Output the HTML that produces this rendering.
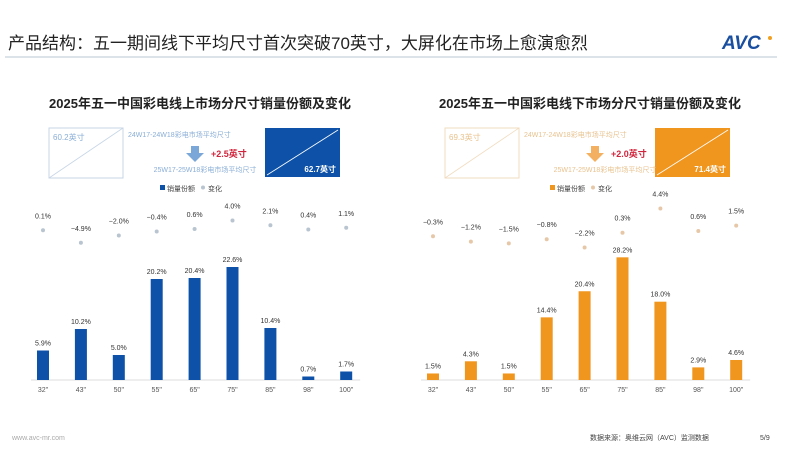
<!DOCTYPE html>
<html><head><meta charset="utf-8">
<style>
body{margin:0;background:#fff;}
svg text{font-family:"Liberation Sans","Noto Sans CJK SC",sans-serif;}
</style></head>
<body>
<svg id="root" width="800" height="470" viewBox="0 0 800 470" xmlns="http://www.w3.org/2000/svg">
<rect width="800" height="470" fill="#fff"/>
<text x="8" y="49" font-size="17" fill="#222">产品结构：五一期间线下平均尺寸首次突破70英寸，大屏化在市场上愈演愈烈</text>
<line x1="5" y1="57" x2="777" y2="57" stroke="#b9c9d6" stroke-width="1"/>
<g>
<text x="722" y="49" font-size="19" font-weight="bold" font-style="italic" fill="#1a4fa0">AVC</text>
<circle cx="770" cy="38" r="2" fill="#f0a020"/>
</g>
<text x="12" y="440" font-size="7" fill="#aaa">www.avc-mr.com</text>
<text x="590" y="440" font-size="7" fill="#444">数据来源：奥维云网（AVC）监测数据</text>
<text x="760" y="440" font-size="7" fill="#444">5/9</text>
<g id="charts"></g>
</svg>
<script>
const cats = ['32"','43"','50"','55"','65"','75"','85"','98"','100"'];
const onlineShare = [5.9,10.2,5.0,20.2,20.4,22.6,10.4,0.7,1.7];
const onlineChange = [0.1,-4.9,-2.0,-0.4,0.6,4.0,2.1,0.4,1.1];
const offlineShare = [1.5,4.3,1.5,14.4,20.4,28.2,18.0,2.9,4.6];
const offlineChange = [-0.3,-1.2,-1.5,-0.8,-2.2,0.3,4.4,0.6,1.5];
const onlineSizes = ['60.2英寸','62.7英寸','+2.5英寸'];
const offlineSizes = ['69.3英寸','71.4英寸','+2.0英寸'];

const NS='http://www.w3.org/2000/svg';
const root=document.getElementById('charts');
function mk(tag,attrs,parent,text){const e=document.createElementNS(NS,tag);for(const k in attrs)e.setAttribute(k,attrs[k]);if(text!==undefined)e.textContent=text;(parent||root).appendChild(e);return e;}
function fmt(v){return (v<0?'−':'')+Math.abs(v).toFixed(1)+'%';}

function drawChart(cfg){
  const g=mk('g',{});
  
  
  const t=mk('text',{x:cfg.cx,y:108,'font-size':13,'font-weight':'bold','text-anchor':'middle',fill:'#222'},g,cfg.title);
  
  
  const b1=mk('g',{},g);
  
  
  mk('rect',{x:cfg.b1x,y:128,width:74,height:50,fill:'none',stroke:cfg.light,'stroke-width':1},b1);
  mk('line',{x1:cfg.b1x,y1:178,x2:cfg.b1x+74,y2:128,stroke:cfg.light,'stroke-width':0.8},b1);
  mk('text',{x:cfg.b1x+4,y:140,'font-size':8,fill:cfg.lightText},b1,cfg.sizes[0]);
  const b2=mk('g',{},g);
  
  
  mk('rect',{x:cfg.b2x,y:128,width:75,height:49,fill:cfg.color},b2);
  mk('line',{x1:cfg.b2x+2,y1:175,x2:cfg.b2x+73,y2:130,stroke:'#fff','stroke-width':0.8},b2);
  mk('text',{x:cfg.b2x+71,y:172,'font-size':8,'font-weight':'bold','text-anchor':'end',fill:'#fff'},b2,cfg.sizes[1]);
  const ac=cfg.b1x+cfg.arrowOff;
  const l1=mk('text',{x:cfg.b1x+79,y:137,'font-size':7,fill:cfg.lightText},g,cfg.lbl1);
  
  
  const ar=mk('path',{d:`M${ac-4},146 h8 v7 h5 l-9,9 l-9,-9 h5 z`,fill:cfg.arrow},g);
  
  
  const dl=mk('text',{x:ac+16,y:157,'font-size':9,'font-weight':'bold',fill:'#d0243c'},g,cfg.sizes[2]);
  
  
  const l2=mk('text',{x:ac+10,y:172,'font-size':7,'text-anchor':'middle',fill:cfg.lightText},g,cfg.lbl2);
  
  
  const lg=mk('g',{},g);
  
  
  mk('rect',{x:cfg.cx-40,y:185,width:5,height:5,fill:cfg.color},lg);
  mk('text',{x:cfg.cx-33,y:191,'font-size':7,fill:'#444'},lg,'销量份额');
  mk('circle',{cx:cfg.cx+3,cy:187.5,r:2,fill:cfg.dot},lg);
  mk('text',{x:cfg.cx+8,y:191,'font-size':7,fill:'#444'},lg,'变化');
  const base=380, step=37.9;
  const xs=i=>cfg.x0+i*step;
  const ys=v=>base-v*cfg.k;
  const yc=v=>cfg.z-v*cfg.kc;
  const ax=mk('line',{x1:cfg.x0-12,y1:base,x2:xs(8)+14,y2:base,stroke:'#ddd','stroke-width':1},g);
  
  
  cats.forEach((c,i)=>{
    const tl=mk('text',{x:xs(i),y:392,'font-size':7,'text-anchor':'middle',fill:'#555'},g,c);
    
    
    const v=cfg.share[i];
    const r=mk('rect',{x:xs(i)-6,y:ys(v),width:12,height:base-ys(v),fill:cfg.color},g);
    
    
    const bl=mk('text',{x:xs(i),y:ys(v)-5,'font-size':7,'text-anchor':'middle',fill:'#333'},g,v.toFixed(1)+'%');
    
    
    const cv=cfg.change[i];
    const d=mk('circle',{cx:xs(i),cy:yc(cv),r:2,fill:cfg.dot},g);
    
    
    const cl=mk('text',{x:xs(i),y:yc(cv)-12,'font-size':7,'text-anchor':'middle',fill:'#333'},g,fmt(cv));
    
    
  });
}
drawChart({name:'online-chart',title:'2025年五一中国彩电线上市场分尺寸销量份额及变化',cx:200,x0:43,
  share:onlineShare,change:onlineChange,sizes:onlineSizes,k:5.0,z:230.5,kc:2.5,arrowOff:146,
  color:'#0d52a8',light:'#c8d6e6',lightText:'#8aaed6',dot:'#b8c4d0',arrow:'#7aa7d8',b1x:49,b2x:265,
  lbl1:'24W17-24W18彩电市场平均尺寸',lbl2:'25W17-25W18彩电市场平均尺寸'});
drawChart({name:'offline-chart',title:'2025年五一中国彩电线下市场分尺寸销量份额及变化',cx:590,x0:433,
  share:offlineShare,change:offlineChange,sizes:offlineSizes,k:4.35,z:234.5,kc:5.9,arrowOff:150,
  color:'#f0951e',light:'#f1dcc0',lightText:'#e8c28e',dot:'#e6c8a8',arrow:'#f3b060',b1x:445,b2x:655,
  lbl1:'24W17-24W18彩电市场平均尺寸',lbl2:'25W17-25W18彩电市场平均尺寸'});
</script>
</body></html>
